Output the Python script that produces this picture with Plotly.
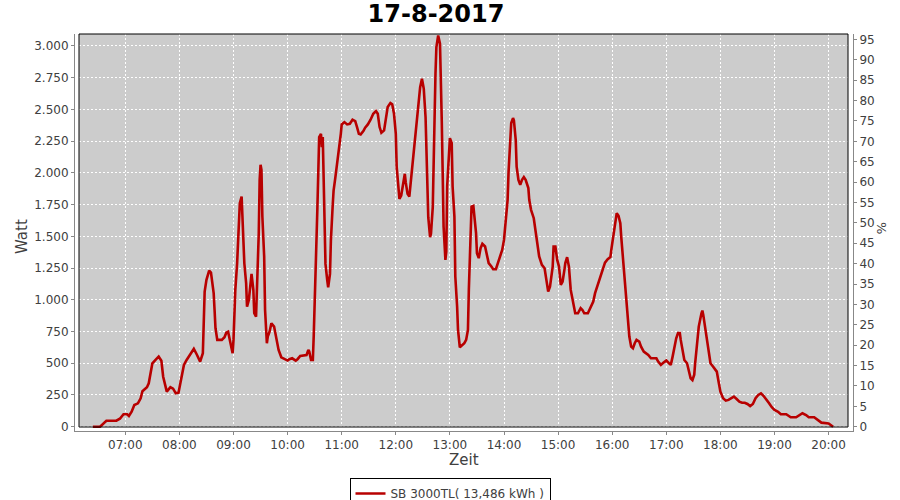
import plotly.graph_objects as go

# ---------------- data ----------------
DATE = "2017-08-17"
TITLE = "17-8-2017"
SERIES_NAME = "SB 3000TL( 13,486 kWh )"

times = [
    "06:24", "06:32", "06:39", "06:50", "06:54", "06:58", "07:02", "07:04", "07:07", "07:10",
    "07:14", "07:17", "07:19", "07:24", "07:26", "07:28", "07:30", "07:34", "07:37", "07:40",
    "07:42", "07:46", "07:50", "07:53", "07:56", "07:59", "08:02", "08:05", "08:08", "08:12",
    "08:16", "08:19", "08:23", "08:26", "08:27", "08:28", "08:30", "08:33", "08:35", "08:36",
    "08:38", "08:39", "08:40", "08:42", "08:47", "08:50", "08:52", "08:54", "08:56", "08:59",
    "09:00", "09:01", "09:02", "09:04", "09:05", "09:07", "09:09", "09:10", "09:11", "09:12",
    "09:14", "09:15", "09:17", "09:19", "09:20", "09:22", "09:23", "09:25", "09:26", "09:28",
    "09:29", "09:30", "09:31", "09:32", "09:34", "09:35", "09:37", "09:38", "09:40", "09:42",
    "09:45", "09:47", "09:50", "09:53", "09:57", "10:00", "10:02", "10:05", "10:09", "10:11",
    "10:14", "10:18", "10:21", "10:23", "10:24", "10:26", "10:28", "10:29", "10:30", "10:32",
    "10:33", "10:34", "10:35", "10:37", "10:38", "10:39", "10:40", "10:41", "10:42", "10:44",
    "10:45", "10:47", "10:48", "10:50", "10:51", "10:53", "10:55", "10:57", "10:59", "11:00",
    "11:03", "11:06", "11:09", "11:12", "11:15", "11:17", "11:19", "11:21", "11:24", "11:26",
    "11:29", "11:32", "11:35", "11:38", "11:40", "11:42", "11:44", "11:47", "11:49", "11:51",
    "11:54", "11:56", "11:58", "12:00", "12:01", "12:03", "12:04", "12:06", "12:08", "12:10",
    "12:11", "12:13", "12:15", "12:16", "12:18", "12:20", "12:22", "12:24", "12:25", "12:27",
    "12:29", "12:31", "12:33", "12:34", "12:35", "12:36", "12:38", "12:39", "12:41", "12:42",
    "12:44", "12:45", "12:47", "12:49", "12:50", "12:51", "12:52", "12:53", "12:55", "12:56",
    "12:57", "12:59", "13:00", "13:02", "13:03", "13:05", "13:06", "13:08", "13:09", "13:11",
    "13:13", "13:16", "13:18", "13:20", "13:21", "13:23", "13:24", "13:26", "13:27", "13:29",
    "13:30", "13:32", "13:34", "13:36", "13:39", "13:41", "13:43", "13:46", "13:48", "13:51",
    "13:53", "13:55", "13:58", "14:00", "14:02", "14:04", "14:05", "14:07", "14:08", "14:10",
    "14:11", "14:13", "14:14", "14:16", "14:18", "14:20", "14:22", "14:24", "14:27", "14:28",
    "14:30", "14:33", "14:35", "14:37", "14:39", "14:42", "14:45", "14:47", "14:49", "14:51",
    "14:54", "14:55", "14:57", "14:59", "15:01", "15:03", "15:05", "15:07", "15:08", "15:10",
    "15:12", "15:14", "15:17", "15:19", "15:22", "15:25", "15:27", "15:29", "15:33", "15:36",
    "15:39", "15:41", "15:44", "15:47", "15:50", "15:52", "15:55", "15:58", "15:59", "16:01",
    "16:03", "16:05", "16:07", "16:09", "16:10", "16:12", "16:14", "16:16", "16:17", "16:19",
    "16:21", "16:23", "16:25", "16:27", "16:30", "16:32", "16:35", "16:38", "16:40", "16:43",
    "16:46", "16:49", "16:51", "16:54", "16:57", "17:00", "17:03", "17:05", "17:07", "17:09",
    "17:11", "17:13", "17:15", "17:16", "17:18", "17:20", "17:23", "17:25", "17:27", "17:29",
    "17:31", "17:32", "17:34", "17:35", "17:36", "17:39", "17:40", "17:41", "17:43", "17:45",
    "17:47", "17:49", "17:52", "17:56", "17:58", "18:00", "18:03", "18:06", "18:09", "18:12",
    "18:15", "18:18", "18:21", "18:24", "18:27", "18:30", "18:33", "18:36", "18:39", "18:42",
    "18:45", "18:48", "18:51", "18:54", "18:57", "19:00", "19:04", "19:07", "19:13", "19:18",
    "19:24", "19:28", "19:31", "19:35", "19:38", "19:44", "19:48", "19:52", "20:00", "20:03",
    "20:05",
]

watt = [
    0, 0, 47, 47, 63, 98, 98, 84, 118, 171,
    184, 224, 279, 311, 342, 434, 500, 531, 552, 520,
    394, 276, 311, 300, 263, 268, 394, 487, 526, 565,
    613, 573, 513, 579, 867, 1065, 1157, 1230, 1214, 1170,
    1052, 920, 776, 684, 684, 705, 741, 749, 670, 579,
    684, 867, 1078, 1288, 1486, 1762, 1814, 1656, 1472, 1288,
    1131, 946, 999, 1183, 1204, 1078, 894, 867, 1052, 1525,
    1945, 2064, 2024, 1656, 1341, 920, 658, 710, 749, 815,
    789, 723, 605, 547, 532, 521, 532, 539, 521, 532,
    558, 565, 565, 605, 592, 526, 526, 723, 1030, 1390,
    1715, 1995, 2282, 2308, 2203, 2282, 1888, 1651, 1283, 1151,
    1099, 1204, 1467, 1743, 1861, 1967, 2072, 2190, 2308, 2382,
    2400, 2382, 2387, 2419, 2408, 2361, 2308, 2303, 2329, 2356,
    2382, 2419, 2466, 2487, 2466, 2361, 2316, 2335, 2413, 2519,
    2550, 2540, 2466, 2308, 2045, 1861, 1796, 1822, 1914, 1993,
    1927, 1835, 1814, 1888, 2045, 2203, 2348, 2453, 2571, 2676,
    2742, 2663, 2440, 2203, 1914, 1651, 1494, 1520, 1730, 2177,
    2781, 2992, 3083, 3018, 2781, 2400, 2000, 1577, 1314, 1380,
    1900, 2235, 2274, 2235, 1893, 1656, 1183, 946, 763, 626,
    636, 658, 684, 763, 1078, 1498, 1735, 1741, 1683, 1525,
    1367, 1328, 1407, 1441, 1420, 1354, 1289, 1262, 1241, 1241,
    1289, 1341, 1393, 1472, 1604, 1788, 1998, 2235, 2393, 2432,
    2413, 2261, 2050, 1945, 1906, 1945, 1967, 1945, 1880, 1788,
    1709, 1643, 1538, 1446, 1341, 1275, 1249, 1157, 1065, 1104,
    1262, 1420, 1420, 1314, 1262, 1117, 1144, 1236, 1289, 1336,
    1262, 1078, 973, 894, 894, 934, 920, 894, 894, 934,
    986, 1052, 1117, 1183, 1249, 1293, 1320, 1336, 1393, 1498,
    1604, 1683, 1662, 1604, 1498, 1314, 1183, 999, 867, 710,
    631, 618, 658, 684, 671, 631, 592, 579, 565, 539,
    539, 539, 513, 487, 505, 521, 500, 487, 552, 631,
    697, 737, 737, 684, 605, 526, 500, 447, 382, 368,
    410, 500, 631, 737, 789, 894, 915, 881, 789, 684,
    579, 500, 473, 434, 355, 276, 224, 205, 211, 226,
    237, 218, 197, 189, 189, 179, 163, 179, 224, 250,
    263, 242, 216, 184, 153, 132, 118, 98, 98, 74,
    74, 92, 106, 92, 74, 74, 53, 32, 26, 13,
    0,
]

x_tick_labels = ["07:00", "08:00", "09:00", "10:00", "11:00", "12:00", "13:00",
                 "14:00", "15:00", "16:00", "17:00", "18:00", "19:00", "20:00"]
y_left_ticks = [0, 250, 500, 750, 1000, 1250, 1500, 1750, 2000, 2250, 2500, 2750, 3000]
y_left_labels = ["0", "250", "500", "750", "1.000", "1.250", "1.500", "1.750",
                 "2.000", "2.250", "2.500", "2.750", "3.000"]
y_right_ticks = list(range(0, 100, 5))
y_right_labels = [str(v) for v in y_right_ticks]

x_full = [f"{DATE} {t}" for t in times]
x_tickvals = [f"{DATE} {t}" for t in x_tick_labels]

# ---------------- layout geometry (pixels) ----------------
W, H = 900, 500
DOM_L, DOM_R, DOM_T, DOM_B = 75, 853, 34, 431      # axis-line positions
BOX_L, BOX_R, BOX_B = 79, 848, 427                   # grey plot box
dom_w = DOM_R - DOM_L
dom_h = DOM_B - DOM_T


def px(xp):
    return (xp - DOM_L) / dom_w


def py(yp):
    return (DOM_B - yp) / dom_h


FONT = "DejaVu Sans"
TXT = "#404040"
RED = "#B80000"

fig = go.Figure()
fig.add_trace(go.Scatter(
    x=x_full, y=watt, mode="lines", name=SERIES_NAME,
    line=dict(color=RED, width=2.6), hoverinfo="x+y",
))
# invisible trace to activate the right (%) axis
fig.add_trace(go.Scatter(
    x=[x_full[0]], y=[0], yaxis="y2", mode="markers",
    marker=dict(opacity=0), showlegend=False, hoverinfo="skip",
))

grid = dict(showgrid=True, gridcolor="white", gridwidth=1, griddash="2px,2px")
axis_common = dict(
    showline=True, linecolor="#888888", linewidth=1,
    ticks="outside", ticklen=3, tickcolor="#888888",
    tickfont=dict(family=FONT, size=12, color=TXT),
    zeroline=False, automargin=False,
)

fig.update_layout(
    width=W, height=H,
    margin=dict(l=DOM_L, r=W - DOM_R, t=DOM_T, b=H - DOM_B, pad=0, autoexpand=False),
    paper_bgcolor="white", plot_bgcolor="white",
    font=dict(family=FONT, color=TXT),
    title=dict(text=f"<b>{TITLE}</b>", x=436 / W, xref="container", xanchor="center",
               y=1 - 14 / H, yref="container", yanchor="middle",
               font=dict(family=FONT, size=24, color="black")),
    xaxis=dict(
        type="date",
        range=[f"{DATE} 06:04:12", f"{DATE} 20:27:04"],
        tickvals=x_tickvals, ticktext=x_tick_labels,
        **grid, **axis_common,
    ),
    yaxis=dict(
        range=[-33.9, 3094.5],
        tickvals=y_left_ticks, ticktext=y_left_labels,
        **grid, **axis_common,
    ),
    yaxis2=dict(
        overlaying="y", side="right", range=[-1.055, 96.32],
        tickvals=y_right_ticks, ticktext=y_right_labels,
        showgrid=False, **axis_common,
    ),
    showlegend=True,
    legend=dict(
        x=px(450), y=py(478), xanchor="center", yanchor="top",
        orientation="h", bgcolor="white", bordercolor="black", borderwidth=1,
        itemwidth=30,
        font=dict(family=FONT, size=12, color=TXT),
    ),
    shapes=[
        dict(type="rect", xref="paper", yref="paper",
             x0=px(BOX_L), x1=px(BOX_R), y0=py(BOX_B), y1=1,
             fillcolor="#CCCCCC", line=dict(width=0), layer="below"),
        dict(type="rect", xref="paper", yref="paper",
             x0=px(BOX_L), x1=px(BOX_R), y0=py(BOX_B), y1=1,
             fillcolor="rgba(0,0,0,0)", line=dict(color="black", width=1), layer="above"),
    ],
    annotations=[
        dict(text="Watt", xref="paper", yref="paper", x=px(22), y=py(237),
             textangle=-90, showarrow=False, xanchor="center", yanchor="middle",
             font=dict(family=FONT, size=15, color=TXT)),
        dict(text="%", xref="paper", yref="paper", x=px(882), y=py(228),
             textangle=90, showarrow=False, xanchor="center", yanchor="middle",
             font=dict(family=FONT, size=13, color=TXT)),
        dict(text="Zeit", xref="paper", yref="paper", x=px(463.5), y=py(460),
             showarrow=False, xanchor="center", yanchor="middle",
             font=dict(family=FONT, size=15, color=TXT)),
    ],
)

fig.write_html(
    "out.html",
    config={"displayModeBar": False},
    post_script="document.body.style.margin='0';document.body.style.overflow='hidden';",
)
